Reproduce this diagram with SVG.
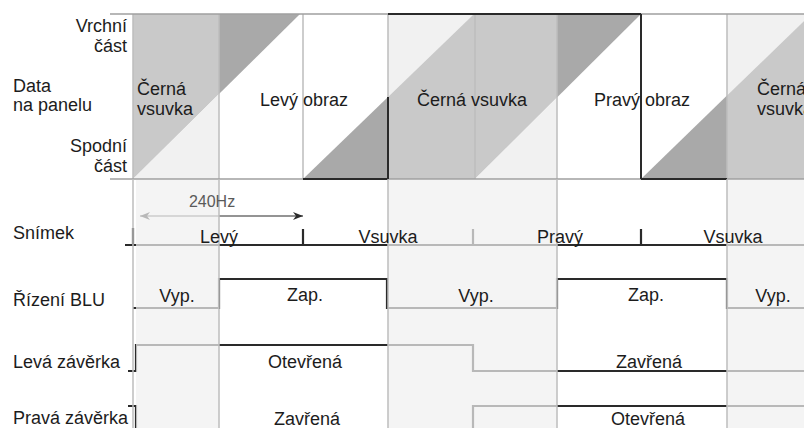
<svg xmlns="http://www.w3.org/2000/svg" width="804" height="428" viewBox="0 0 804 428">
<defs>
<style>
text{font-family:"Liberation Sans",Arial,Helvetica,sans-serif;font-size:18px;fill:#1c1c1c}
.mid{text-anchor:middle}
.end{text-anchor:end}
.med{fill:#c9c9c9}
.dk{fill:#a9a9a9}
.lt{fill:#f1f1f1}
.grid{stroke:#bdbdbd;stroke-width:1.5;fill:none}
.bord{stroke:#a0a0a0;stroke-width:1.5;fill:none}
.heavy{stroke:#2a2a2a;stroke-width:2;fill:none}
.sig{stroke:#2a2a2a;stroke-width:2.2;fill:none}
.veil{fill:#f0f0f0;fill-opacity:0.72}
</style>
<marker id="ah" viewBox="0 0 10 8" refX="10" refY="4" markerWidth="10" markerHeight="8" orient="auto-start-reverse" markerUnits="userSpaceOnUse">
<path d="M0,0 L10,4 L0,8 L3,4 z" fill="#2a2a2a"/>
</marker>
</defs>
<rect width="804" height="428" fill="#ffffff"/>

<g id="panel">
<polygon class="med" points="133,14 219,14 219,94 133,179"/>
<polygon class="lt" points="133,179 219,94 219,179"/>
<polygon class="dk" points="219,14 300,14 219,94"/>
<polygon class="dk" points="303,179 388,97 388,179"/>
<polygon class="lt" points="388,14 474,14 388,97"/>
<polygon class="med" points="388,97 474,14 475,14 475,179 388,179"/>
<polygon class="med" points="475,14 557,14 557,97.5 475,179"/>
<polygon class="lt" points="475,179 557,97.5 557,179"/>
<polygon class="dk" points="557,14 641,14 557,97.5"/>
<polygon class="dk" points="641,179 727,95.5 727,179"/>
<polygon class="lt" points="727,14 804,14 804,21 727,95.5"/>
<polygon class="med" points="727,95.5 804,21 804,179 727,179"/>
<path class="grid" d="M133,14V179M219,14V179M303,14V179M388,14V97M475,14V179M557,14V179M727,14V179"/>
<path class="bord" d="M110,14H804M110,179H804"/>
<path class="heavy" d="M388,14H641M303,179H388M641,179H727M388,97V179M641,14V179"/>
<text x="137" y="95">Černá</text>
<text x="137" y="115">vsuvka</text>
<text x="260" y="106">Levý obraz</text>
<text x="417" y="106">Černá vsuvka</text>
<text x="594" y="106">Pravý obraz</text>
<text x="757" y="95">Černá</text>
<text x="757" y="115">vsuvka</text>
</g>

<g id="labels">
<text class="end" x="127" y="32">Vrchní</text>
<text class="end" x="127" y="52">část</text>
<text x="13" y="92">Data</text>
<text x="13" y="111">na panelu</text>
<text class="end" x="127" y="152">Spodní</text>
<text class="end" x="127" y="172">část</text>
<text x="13" y="239">Snímek</text>
<text x="13" y="306">Řízení BLU</text>
<text x="13" y="368">Levá závěrka</text>
<text x="13" y="424">Pravá závěrka</text>
</g>

<g id="connectors">
<path class="sig" d="M125,245H133V228M133,245H804M303,245V229M473,245V229M641,245V229"/>
<path class="sig" d="M133,308H219V279H387V308H557V279H727V308H804"/>
<path class="sig" d="M128,371H136V345H473V371H804"/>
<path class="sig" d="M128,406H136V432M473,432V406H804"/>
<line x1="140" y1="216" x2="303" y2="216" stroke="#2a2a2a" stroke-width="1.2" marker-start="url(#ah)" marker-end="url(#ah)"/>
</g>

<g id="veils">
<rect class="veil" x="136" y="180" width="83" height="248"/>
<rect class="veil" x="388" y="180" width="169" height="248"/>
<rect class="veil" x="727" y="180" width="77" height="248"/>
</g>
<path class="grid" d="M133,179V428M219,179V428M388,179V428M557,179V428M727,179V428"/>

<g id="timing-text">
<text class="mid" x="212" y="207" style="font-size:16px;fill:#5a5a5a">240Hz</text>
<text class="mid" x="219" y="243">Levý</text>
<text class="mid" x="388" y="243">Vsuvka</text>
<text class="mid" x="560" y="243">Pravý</text>
<text class="mid" x="733" y="243">Vsuvka</text>
<text class="mid" x="177" y="302">Vyp.</text>
<text class="mid" x="305" y="301">Zap.</text>
<text class="mid" x="476" y="302">Vyp.</text>
<text class="mid" x="646" y="301">Zap.</text>
<text class="mid" x="773" y="302">Vyp.</text>
<text class="mid" x="305" y="368">Otevřená</text>
<text class="mid" x="649" y="368">Zavřená</text>
<text class="mid" x="307" y="425">Zavřená</text>
<text class="mid" x="648" y="425">Otevřená</text>
</g>
</svg>
